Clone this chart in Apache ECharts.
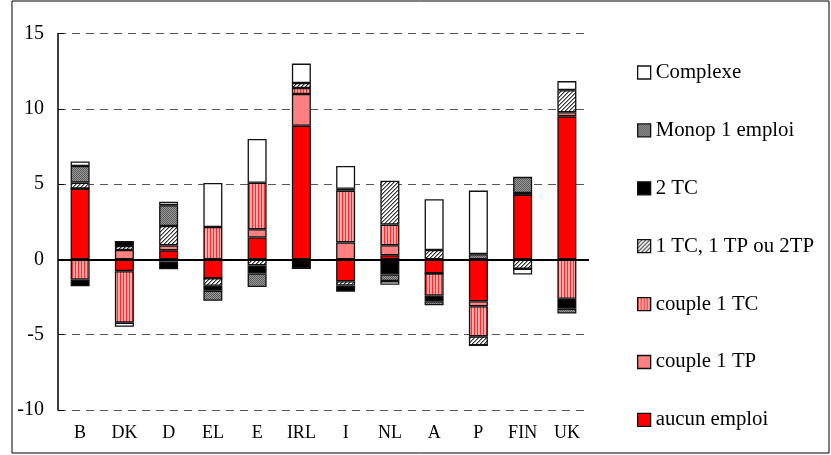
<!DOCTYPE html>
<html><head><meta charset="utf-8">
<script src="https://cdn.jsdelivr.net/npm/echarts@6/dist/echarts.min.js"></script>
<style>html,body{margin:0;padding:0;background:#fff}#c{width:831px;height:455px}</style>
</head><body><div id="c"></div>
<script>
const categories = ['B','DK','D','EL','E','IRL','I','NL','A','P','FIN','UK'];
const aucunEmploi = [4.7, -0.78, 0.6, -1.25, 1.45, 8.87, -1.45, 0.28, -0.93, -2.78, 4.29, 9.5];
const couple1TP   = [0, 0.62, 0.33, 0, 0.55, 2.11, 1.13, 0.66, 0, -0.33, 0, 0.27];
const couple1TC   = [-1.33, -3.42, -0.15, 2.15, 3.09, 0.4, 3.44, 1.37, -1.47, -2.0, 0.12, -2.62];
const tcTpOu2TP   = [0.4, 0.27, 1.29, -0.5, -0.4, 0.33, -0.29, 2.92, 0.62, -0.6, -0.62, 1.47];
const deuxTC      = [-0.45, 0.29, -0.5, -0.33, -0.53, -0.6, -0.4, -1.0, -0.38, 0, 0, -0.65];
const monop1      = [1.1, 0, 1.38, -0.67, -0.9, 0, 0.12, -0.44, -0.27, 0.35, 1.07, -0.33];
const complexe    = [0.3, -0.28, 0.22, 2.93, 2.9, 1.29, 1.51, -0.25, 3.38, 4.22, -0.38, 0.6];
const yTicks = [-10, 15, 5];

function tile(w, h, draw){
  const c = document.createElement('canvas'); c.width = w; c.height = h;
  draw(c.getContext('2d')); return {image: c, repeat: 'repeat'};
}
const patMonop = tile(2,2,g=>{g.fillStyle='#9a9a9a';g.fillRect(0,0,2,2);g.fillStyle='#5a5a5a';g.fillRect(0,0,1,1);g.fillRect(1,1,1,1);});
const patHatch = tile(4,4,g=>{g.fillStyle='#ffffff';g.fillRect(0,0,4,4);g.fillStyle='#333';for(let i=0;i<4;i++){g.fillRect(i,3-i,1,1);} g.fillStyle='#999';for(let i=0;i<4;i++){g.fillRect(i,(4-i)%4,1,1);} });
const patStripe = tile(3,1,g=>{g.fillStyle='#ffa6a6';g.fillRect(0,0,3,1);g.fillStyle='#ff2a2a';g.fillRect(0,0,1,1);});

const FONT = 'Liberation Serif';
const defs = [
  ['aucun emploi', aucunEmploi, '#ff0000'],
  ['couple 1 TP', couple1TP, '#ff8080'],
  ['couple 1 TC', couple1TC, patStripe],
  ['1 TC, 1 TP ou 2TP', tcTpOu2TP, patHatch],
  ['2 TC', deuxTC, '#000000'],
  ['Monop 1 emploi', monop1, patMonop],
  ['Complexe', complexe, '#ffffff']
];
const series = defs.map((d,i)=>({
  name: d[0], type: 'bar', stack: 'all', data: d[1], barWidth: 19,
  itemStyle: {color: d[2], borderColor: '#111', borderWidth: 1.3},
  emphasis: {disabled: true},
  markLine: i===0 ? {silent:true, symbol:['none','none'], label:{show:false},
    lineStyle:{color:'#000', width:2, type:'solid'}, data:[{yAxis:0}], z:10} : undefined
}));

const chart = echarts.init(document.getElementById('c'));
chart.setOption({
  animation: false,
  backgroundColor: '#fff',
  graphic: [{type:'rect', shape:{x:12, y:1, width:817, height:452}, style:{fill:'none', stroke:'#000', lineWidth:1}, silent:true}],
  grid: {left: 58, right: 242, top: 33.5, bottom: 45},
  legend: {
    orient: 'vertical', left: 637, top: 62, padding: 0, itemWidth: 13, itemHeight: 13, itemGap: 36.9,
    icon: 'rect', selectedMode: false,
    data: ['Complexe','Monop 1 emploi','2 TC','1 TC, 1 TP ou 2TP','couple 1 TC','couple 1 TP','aucun emploi'],
    textStyle: {fontFamily: FONT, fontSize: 20.8, color: '#000', lineHeight: 20, padding: [0,0,0,0]},
    itemStyle: {borderColor: '#111', borderWidth: 1.3}
  },
  xAxis: {
    type: 'category', data: categories,
    axisLine: {show: false, onZero: false}, axisTick: {show: false},
    axisLabel: {fontFamily: FONT, fontSize: 18, color: '#000', margin: 14}
  },
  yAxis: {
    type: 'value', min: yTicks[0], max: yTicks[1], interval: yTicks[2],
    axisLine: {show: true, lineStyle: {color: '#000', width: 1.5}},
    axisTick: {show: true, inside: true, length: 6, lineStyle: {color: '#000'}},
    axisLabel: {fontFamily: FONT, fontSize: 20, color: '#000', margin: 14},
    splitLine: {show: true, lineStyle: {color: '#555', type: [8, 6], width: 1}}
  },
  series: series
});
</script></body></html>
